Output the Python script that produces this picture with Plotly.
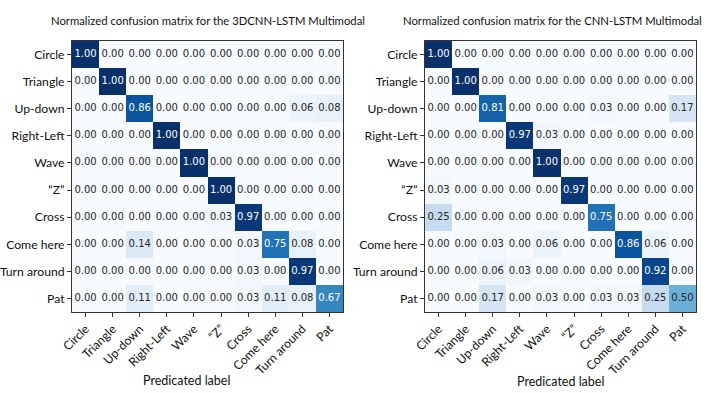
import plotly.graph_objects as go

labels = ["Circle", "Triangle", "Up-down", "Right-Left", "Wave", "\u201cZ\u201d",
          "Cross", "Come here", "Turn around", "Pat"]

cm_3dcnn = [
    [1.00, 0.00, 0.00, 0.00, 0.00, 0.00, 0.00, 0.00, 0.00, 0.00],
    [0.00, 1.00, 0.00, 0.00, 0.00, 0.00, 0.00, 0.00, 0.00, 0.00],
    [0.00, 0.00, 0.86, 0.00, 0.00, 0.00, 0.00, 0.00, 0.06, 0.08],
    [0.00, 0.00, 0.00, 1.00, 0.00, 0.00, 0.00, 0.00, 0.00, 0.00],
    [0.00, 0.00, 0.00, 0.00, 1.00, 0.00, 0.00, 0.00, 0.00, 0.00],
    [0.00, 0.00, 0.00, 0.00, 0.00, 1.00, 0.00, 0.00, 0.00, 0.00],
    [0.00, 0.00, 0.00, 0.00, 0.00, 0.03, 0.97, 0.00, 0.00, 0.00],
    [0.00, 0.00, 0.14, 0.00, 0.00, 0.00, 0.03, 0.75, 0.08, 0.00],
    [0.00, 0.00, 0.00, 0.00, 0.00, 0.00, 0.03, 0.00, 0.97, 0.00],
    [0.00, 0.00, 0.11, 0.00, 0.00, 0.00, 0.03, 0.11, 0.08, 0.67],
]

cm_cnn = [
    [1.00, 0.00, 0.00, 0.00, 0.00, 0.00, 0.00, 0.00, 0.00, 0.00],
    [0.00, 1.00, 0.00, 0.00, 0.00, 0.00, 0.00, 0.00, 0.00, 0.00],
    [0.00, 0.00, 0.81, 0.00, 0.00, 0.00, 0.03, 0.00, 0.00, 0.17],
    [0.00, 0.00, 0.00, 0.97, 0.03, 0.00, 0.00, 0.00, 0.00, 0.00],
    [0.00, 0.00, 0.00, 0.00, 1.00, 0.00, 0.00, 0.00, 0.00, 0.00],
    [0.03, 0.00, 0.00, 0.00, 0.00, 0.97, 0.00, 0.00, 0.00, 0.00],
    [0.25, 0.00, 0.00, 0.00, 0.00, 0.00, 0.75, 0.00, 0.00, 0.00],
    [0.00, 0.00, 0.03, 0.00, 0.06, 0.00, 0.00, 0.86, 0.06, 0.00],
    [0.00, 0.00, 0.06, 0.03, 0.00, 0.00, 0.00, 0.00, 0.92, 0.00],
    [0.00, 0.00, 0.17, 0.00, 0.03, 0.00, 0.03, 0.03, 0.25, 0.50],
]

titles = ["Normalized confusion matrix for the 3DCNN-LSTM Multimodal",
          "Normalized confusion matrix for the CNN-LSTM Multimodal"]
xlabel = "Predicated label"

blues = [[0.0, "#f7fbff"], [0.125, "#deebf7"], [0.25, "#c6dbef"], [0.375, "#9ecae1"],
         [0.5, "#6baed6"], [0.625, "#4292c6"], [0.75, "#2171b5"], [0.875, "#08519c"],
         [1.0, "#08306b"]]

W, H = 707, 393
LBL_FONT = "Lato, Open Sans, sans-serif"

fig = go.Figure()

panels = [
    (cm_3dcnn, "x", "y"),
    (cm_cnn, "x2", "y2"),
]

for cm, xa, ya in panels:
    fig.add_trace(go.Heatmap(
        z=cm, x=labels, y=labels, xaxis=xa, yaxis=ya,
        colorscale=blues, zmin=0, zmax=1, showscale=False,
        xgap=0, ygap=0, hoverinfo="skip"))
    for dark in (True, False):
        xs, ys, ts = [], [], []
        for r, row in enumerate(cm):
            for c, v in enumerate(row):
                if (v > 0.5) != dark:
                    continue
                xs.append(labels[c]); ys.append(labels[r]); ts.append(f"{v:.2f}")
        fig.add_trace(go.Scatter(
            x=xs, y=ys, text=ts, mode="text", xaxis=xa, yaxis=ya,
            textfont=dict(family="DejaVu Sans", size=10,
                          color="white" if dark else "#262626"),
            hoverinfo="skip", showlegend=False))

def axis_common():
    return dict(type="category", ticks="outside", ticklen=4, tickcolor="#333",
                showgrid=False, zeroline=False, showline=True, linecolor="#333",
                linewidth=1, mirror=True, automargin=False,
                tickfont=dict(family=LBL_FONT, size=12.2, color="#111"))

def xaxis(dom, anchor):
    d = axis_common()
    d.update(domain=dom, anchor=anchor, tickangle=-45)
    return d

def yaxis(dom, anchor):
    d = axis_common()
    d.update(domain=dom, anchor=anchor, autorange="reversed")
    return d

ydom = [1 - 312 / H, 1 - 41 / H]
fig.update_layout(
    width=W, height=H, margin=dict(l=0, r=0, t=0, b=0, autoexpand=False),
    paper_bgcolor="white", plot_bgcolor="white", showlegend=False,
    xaxis=xaxis([72 / W, 343 / W], "y"),
    yaxis=yaxis(ydom, "x"),
    xaxis2=xaxis([425 / W, 696 / W], "y2"),
    yaxis2=yaxis(ydom, "x2"),
)

ann = [
    dict(text=titles[0], x=208 / W, y=1 - 20 / H, size=11.3),
    dict(text=titles[1], x=552 / W, y=1 - 20 / H, size=11.3),
    dict(text=xlabel, x=186 / W, y=1 - 380 / H, size=12.5),
    dict(text=xlabel, x=560 / W, y=1 - 381 / H, size=12.5),
]
for a in ann:
    fig.add_annotation(xref="paper", yref="paper", showarrow=False,
                       xanchor="center", yanchor="middle",
                       text=a["text"], x=a["x"], y=a["y"],
                       font=dict(family=LBL_FONT, size=a["size"], color="#111"))

fig.write_html("out.html",
               config={"displayModeBar": False},
               post_script="document.body.style.margin='0';"
                           "document.body.style.overflow='hidden';")
